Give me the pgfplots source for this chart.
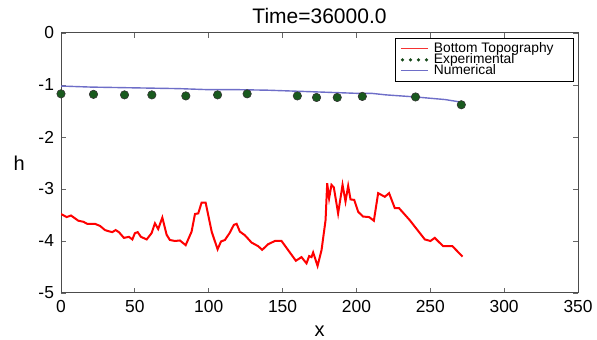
\documentclass[border=0pt]{standalone}
\usepackage{fontspec}
\setmainfont{Liberation Sans}
\usepackage{pgfplots}
\pgfplotsset{compat=1.18}
\usetikzlibrary{calc}
\definecolor{numblue}{RGB}{110,110,200}
\definecolor{expgreen}{RGB}{25,90,30}
\definecolor{legred}{RGB}{245,50,50}
\definecolor{legdot}{RGB}{20,72,24}
\begin{document}
\begin{tikzpicture}
\begin{axis}[
  scale only axis, width=258.5pt, height=130pt,
  xmin=0, xmax=350, ymin=-5, ymax=0,
  xtick={0,50,...,350}, ytick={-5,-4,...,0},
  tick align=inside, major tick length=2.5pt,
  tick style={color=black!60, line width=0.4pt},
  axis line style={color=black!70, line width=0.5pt},
  /pgf/number format/assume math mode=true,
  ticklabel style={font=\fontsize{8.7}{9}\selectfont},
  title={Time=36000.0}, title style={font=\fontsize{10.5}{12}\selectfont, yshift=-5pt},
  xlabel={x}, ylabel={h},
  xlabel style={font=\fontsize{10}{11}\selectfont, yshift=0pt},
  ylabel style={font=\fontsize{10}{11}\selectfont, rotate=-90, xshift=0pt},
  legend cell align=left,
  legend style={at={(1,1)}, anchor=north east, xshift=-2pt, yshift=-2.5pt,
    font=\fontsize{6.9}{6.9}\selectfont, draw=black, line width=0.4pt,
    inner sep=1pt, row sep=-3pt, nodes={inner sep=1pt}},
]
\addplot[red, line width=1pt,
  legend image code/.code={\path[draw=none,fill=none] (0pt,-0.5pt) rectangle (17.5pt,0.5pt); \draw[draw=legred, line width=0.4pt] (2pt,0pt) -- (15.5pt,0pt);}] coordinates {
(0,-3.48) (3.8,-3.54) (6.8,-3.51) (11.7,-3.61) (15.1,-3.63) (17.8,-3.67) (23,-3.67)
(26.4,-3.71) (29.8,-3.79) (32,-3.81) (34.7,-3.83) (37,-3.79) (39.2,-3.83) (42.6,-3.94)
(46,-3.92) (48.3,-3.97) (50,-3.85) (51.9,-3.83) (54.1,-3.92) (58,-3.97) (61.3,-3.85)
(63.6,-3.66) (65.8,-3.77) (68.6,-3.55) (71.5,-3.88) (73.7,-3.98) (77.1,-4.0) (80.5,-3.99)
(84.4,-4.08) (88.4,-3.82) (90.7,-3.48) (92.9,-3.47) (95.2,-3.26) (97.9,-3.26) (102,-3.82)
(106,-4.16) (108.3,-4.01) (111,-3.98) (114.3,-3.84) (117,-3.69) (118.9,-3.67) (121.1,-3.82)
(124.5,-3.89) (129,-4.03) (133.5,-4.10) (136.2,-4.17) (140.3,-4.06) (144.8,-4.0) (149.3,-4.0)
(159,-4.38) (162.8,-4.31) (166.2,-4.43) (168,-4.29) (169.6,-4.31) (170.7,-4.22) (173.7,-4.48)
(176.4,-4.17) (179.1,-3.60) (180.2,-2.89) (181.5,-3.18) (183.1,-2.92) (184.7,-2.97)
(187.6,-3.47) (190.6,-2.92) (192.6,-3.24) (194.4,-2.94) (196,-3.20) (198.5,-3.21)
(201.2,-3.44) (204.5,-3.53) (208.6,-3.54) (211.8,-3.61) (214.7,-3.08) (219.2,-3.15)
(222.1,-3.08) (226,-3.37) (228.9,-3.37) (236.1,-3.60) (246.3,-3.97) (250.1,-4.0)
(253,-3.94) (258.7,-4.10) (265,-4.10) (271.8,-4.30)
};
\addlegendentry{Bottom Topography\hspace*{8pt}}
\addplot[only marks, mark=*, mark size=2.1pt, mark options={fill=expgreen, draw=black!80, line width=0.3pt},
  legend image code/.code={\path[draw=none,fill=none] (0pt,-0.5pt) rectangle (17.5pt,0.5pt);
    \foreach \xx in {2.8,6.8,10.8,14.8} {\fill[fill=legdot, draw=none] (\xx pt,0) circle (0.9pt);}
  }] coordinates {
(0,-1.17) (22,-1.18) (43,-1.19) (61.5,-1.19) (84.5,-1.21) (106,-1.19) (126,-1.17)
(160,-1.21) (173,-1.24) (187,-1.24) (204,-1.22) (240,-1.23) (271,-1.38)
};
\addlegendentry{Experimental}
\addplot[numblue, line width=0.7pt,
  legend image code/.code={\path[draw=none,fill=none] (0pt,-0.5pt) rectangle (17.5pt,0.5pt); \draw[draw=numblue, line width=0.4pt] (2pt,0pt) -- (15.5pt,0pt);}] coordinates {
(0,-1.02) (20,-1.04) (40,-1.05) (60,-1.06) (80,-1.07) (100,-1.09) (120,-1.09) (140,-1.10)
(160,-1.12) (180,-1.14) (200,-1.16) (210,-1.16) (220,-1.19) (240,-1.23) (260,-1.28) (271,-1.33)
};
\addlegendentry{Numerical}
\end{axis}
\pgfresetboundingbox
\useasboundingbox ($(current axis.south west)+(-30.5pt,-23.5pt)$) rectangle ($(current axis.north east)+(9.5pt,16.5pt)$);
\end{tikzpicture}
\end{document}
